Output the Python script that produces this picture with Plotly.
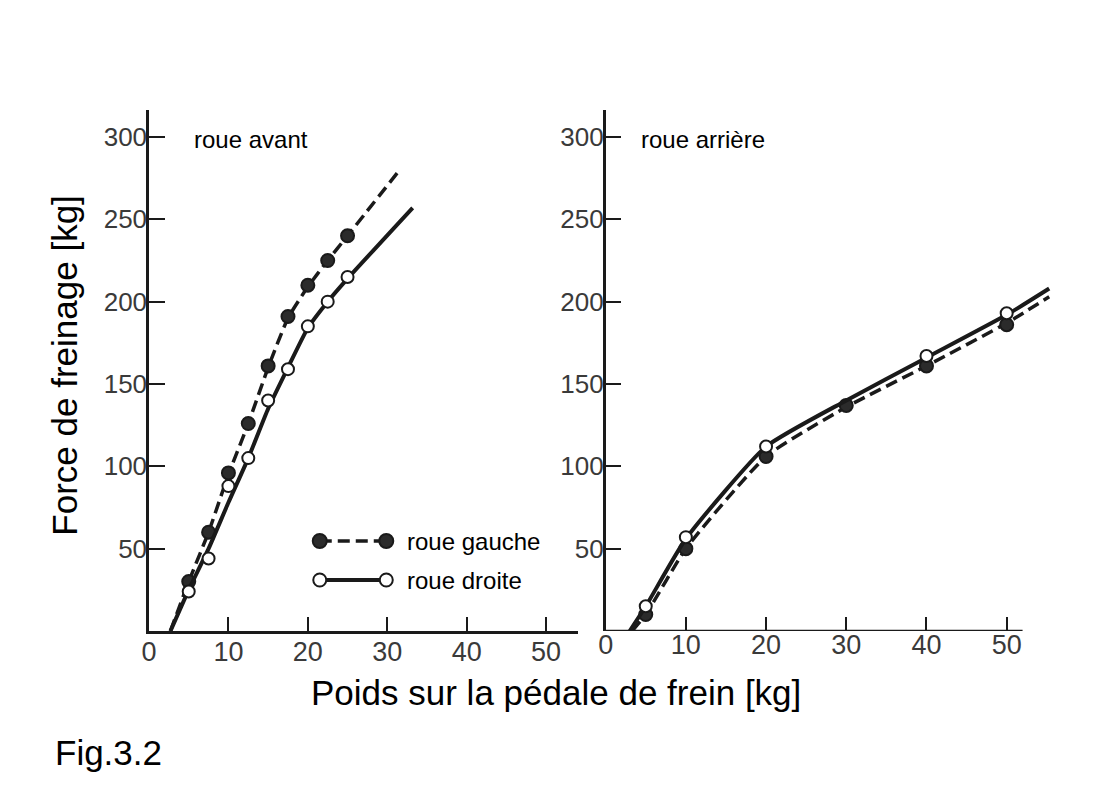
import plotly.graph_objects as go

# ---------------- data ----------------
# roue avant (front wheel)
AV_X = [5, 7.5, 10, 12.5, 15, 17.5, 20, 22.5, 25]
AV_GAUCHE = [30, 60, 96, 126, 161, 191, 210, 225, 240]
AV_DROITE = [24, 44, 88, 105, 140, 159, 185, 200, 215]
# fitted line extents (start on x axis, end beyond last point)
AV_GAUCHE_LINE_X = [2.7, 5, 7.5, 10, 12.5, 15, 17.5, 20, 22.5, 25, 31.4]
AV_GAUCHE_LINE_Y = [0, 30, 60, 95, 126, 160, 190, 209, 225, 240, 279]
AV_DROITE_LINE_X = [2.7, 5, 7.5, 10, 12.5, 15, 17.5, 20, 22.5, 25, 33.2]
AV_DROITE_LINE_Y = [0, 25, 50, 78, 105, 135, 160, 184, 200, 214, 257]

# roue arrière (rear wheel)
AR_GAUCHE_X = [5, 10, 20, 30, 40, 50]
AR_GAUCHE = [10, 50, 106, 137, 161, 186]
AR_DROITE_X = [5, 10, 20, 40, 50]
AR_DROITE = [15, 57, 112, 167, 193]
AR_GAUCHE_LINE_X = [3.3, 5, 10, 20, 30, 40, 50, 55.3]
AR_GAUCHE_LINE_Y = [0, 10, 50, 106, 136, 161, 187, 203]
AR_DROITE_LINE_X = [3.0, 5, 10, 20, 30, 40, 50, 55.3]
AR_DROITE_LINE_Y = [0, 15, 56, 112, 140, 166, 192, 208]

X_TICKS = [0, 10, 20, 30, 40, 50]
Y_TICKS = [50, 100, 150, 200, 250, 300]

# ---------------- style ----------------
OFF = 8                      # page body margin
W, H = 1100 - OFF, 800 - OFF
FONT = "Liberation Sans, Arial, sans-serif"
TICKFONT_Y = dict(family="Liberation Sans, Arial, sans-serif", size=26, color="#3a3a3a")
TICKFONT_X = dict(family="Liberation Sans Narrow, Arial Narrow, Liberation Sans, sans-serif",
                  size=27, color="#3a3a3a")
INK = "#1a1a1a"
DASH = "12px,6px"


def px_x(p):
    return (p - OFF) / W


def px_y(p):
    return 1 - (p - OFF) / H


fig = go.Figure()


def add_series(xl, yl, xm, ym, filled, xa, ya):
    fig.add_trace(go.Scatter(
        x=xl, y=yl, mode="lines", xaxis=xa, yaxis=ya,
        line=dict(color=INK, width=3.5 if filled else 4, dash=DASH if filled else "solid",
                  shape="spline", smoothing=0.5),
        hoverinfo="skip", showlegend=False))
    fig.add_trace(go.Scatter(
        x=xm, y=ym, mode="markers", xaxis=xa, yaxis=ya,
        marker=dict(size=13 if filled else 12,
                    color="#2b2b2b" if filled else "white",
                    line=dict(color=INK, width=2)),
        showlegend=False))


# left panel
add_series(AV_GAUCHE_LINE_X, AV_GAUCHE_LINE_Y, AV_X, AV_GAUCHE, True, "x", "y")
add_series(AV_DROITE_LINE_X, AV_DROITE_LINE_Y, AV_X, AV_DROITE, False, "x", "y")
# right panel
add_series(AR_GAUCHE_LINE_X, AR_GAUCHE_LINE_Y, AR_GAUCHE_X, AR_GAUCHE, True, "x2", "y2")
add_series(AR_DROITE_LINE_X, AR_DROITE_LINE_Y, AR_DROITE_X, AR_DROITE, False, "x2", "y2")

# legend samples (overlay axis, units = page pixels)
LEG_X = [314, 381]
fig.add_trace(go.Scatter(x=LEG_X, y=[541, 541], mode="lines+markers", xaxis="x3", yaxis="y3",
                         line=dict(color=INK, width=3.5, dash=DASH),
                         marker=dict(size=14, color="#2b2b2b", line=dict(color=INK, width=2)),
                         showlegend=False, hoverinfo="skip"))
fig.add_trace(go.Scatter(x=LEG_X, y=[580, 580], mode="lines+markers", xaxis="x3", yaxis="y3",
                         line=dict(color=INK, width=4),
                         marker=dict(size=13, color="white", line=dict(color=INK, width=2)),
                         showlegend=False, hoverinfo="skip"))

y_top, y_bot = 110, 631
left_x0, left_x1 = 142, 574
right_x0, right_x1 = 602, 1051
right_axis_end = 1022
y_range = [0, (y_bot - y_top) / 1.6467]

common_x = dict(tickmode="array", tickvals=X_TICKS, ticks="inside", ticklen=14,
                tickwidth=2, tickcolor=INK, tickfont=TICKFONT_X, showgrid=False,
                zeroline=False, linecolor=INK, linewidth=2.5, fixedrange=True,
                ticklabelstandoff=-5)
common_y = dict(tickmode="array", tickvals=Y_TICKS, ticks="inside", ticklen=16,
                tickwidth=2, tickcolor=INK, tickfont=TICKFONT_Y, showgrid=False,
                zeroline=False, showline=True, linecolor=INK, linewidth=2.5,
                range=y_range, fixedrange=True, ticklabelstandoff=-6)

fig.update_layout(
    width=W, height=H, margin=dict(l=0, r=0, t=0, b=0),
    paper_bgcolor="white", plot_bgcolor="rgba(0,0,0,0)",
    showlegend=False,
    xaxis=dict(domain=[px_x(left_x0), px_x(left_x1)], range=[0, (left_x1 - left_x0) / 8.0],
               anchor="y", showline=True, **common_x),
    yaxis=dict(domain=[px_y(y_bot), px_y(y_top)], anchor="x", **common_y),
    xaxis2=dict(domain=[px_x(right_x0), px_x(right_x1)], range=[0, (right_x1 - right_x0) / 8.08],
                anchor="y2", showline=False, **common_x),
    yaxis2=dict(domain=[px_y(y_bot), px_y(y_top)], anchor="x2", **common_y),
    xaxis3=dict(domain=[px_x(300), px_x(400)], range=[300, 400], anchor="y3", visible=False,
                fixedrange=True),
    yaxis3=dict(domain=[px_y(600), px_y(520)], range=[600, 520], anchor="x3", visible=False,
                fixedrange=True),
    shapes=[
        dict(type="line", xref="x2 domain", yref="y2", x0=0,
             x1=(right_axis_end - right_x0) / (right_x1 - right_x0), y0=0, y1=0,
             line=dict(color=INK, width=2.5)),
    ],
)

ann = [
    dict(text="roue avant", x=px_x(185), y=px_y(139), xanchor="left", yanchor="middle", size=24),
    dict(text="roue arrière", x=px_x(636), y=px_y(139), xanchor="left", yanchor="middle", size=24),
    dict(text="roue gauche", x=px_x(400), y=px_y(541), xanchor="left", yanchor="middle", size=24),
    dict(text="roue droite", x=px_x(400), y=px_y(580), xanchor="left", yanchor="middle", size=24),
    dict(text="Poids sur la pédale de frein [kg]", x=px_x(552), y=px_y(692), xanchor="center",
         yanchor="middle", size=35),
    dict(text="Fig.3.2", x=px_x(45), y=px_y(752), xanchor="left", yanchor="middle", size=35),
]
for a in ann:
    fig.add_annotation(text=a["text"], x=a["x"], y=a["y"], xref="paper", yref="paper",
                       xanchor=a["xanchor"], yanchor=a["yanchor"], showarrow=False,
                       font=dict(family=FONT, size=a["size"], color="black"))
fig.add_annotation(text="Force de freinage [kg]", x=px_x(56), y=px_y(366), xref="paper",
                   yref="paper", xanchor="center", yanchor="middle", textangle=-90,
                   showarrow=False, font=dict(family=FONT, size=35, color="black"))

fig.write_html("out.html")
